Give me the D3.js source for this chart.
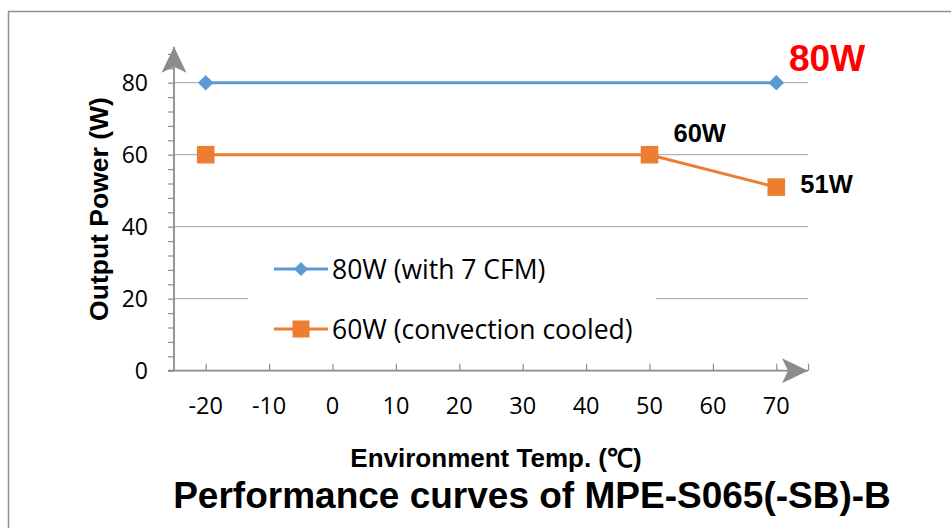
<!DOCTYPE html>
<html><head><meta charset="utf-8">
<script src="https://cdn.jsdelivr.net/npm/d3@7"></script>
<style>body{margin:0;background:#fff}svg{display:block}</style>
</head><body>
<script>
const seriesNames = ["80W (with 7 CFM)", "60W (convection cooled)"];
const series80Temp = [-20, 70];
const series80Power = [80, 80];
const series60Temp = [-20, 50, 70];
const series60Power = [60, 60, 51];
const xTicks = [-20, -10, 0, 10, 20, 30, 40, 50, 60, 70];
const yTicks = [0, 20, 40, 60, 80];
const annotations = [
  {text: "80W", x: 75, y: 80, color: "#ff0000"},
  {text: "60W", x: 50, y: 60, color: "#000"},
  {text: "51W", x: 70, y: 51, color: "#000"}
];

const W = 951, H = 528;
const svg = d3.select("body").append("svg").attr("width", W).attr("height", H);
const x = d3.scaleLinear().domain([-25, 75]).range([174, 808]);
const y = d3.scaleLinear().domain([0, 90]).range([370.7, 46.7]);
const blue = "#5B9BD5", orange = "#ED7D31", axisCol = "#8c8c8c", gridCol = "#b4b4b4";
const diamond = s => `M0,${-s}L${s},0L0,${s}L${-s},0Z`;

// border
svg.append("rect").attr("x", 8.5).attr("y", 11.5).attr("width", 1000).attr("height", 600)
  .attr("fill", "none").attr("stroke", "#8f8f8f").attr("stroke-width", 1.5);

// gridlines
svg.append("g").selectAll("line").data(yTicks.filter(d => d > 0)).join("line")
  .attr("x1", x(-25)).attr("x2", x(75)).attr("y1", d => y(d)).attr("y2", d => y(d))
  .attr("stroke", gridCol).attr("stroke-width", 1.2);

// y axis with minor ticks
const yMinor = d3.range(0, 89, 4);
const yAxis = d3.axisLeft(y).tickValues(yMinor).tickSize(6).tickFormat("");
svg.append("g").attr("transform", `translate(${x(-25)},0)`).call(yAxis)
  .call(g => { g.select(".domain").remove(); g.selectAll("line").attr("stroke", axisCol).attr("stroke-width", 1.2); });
svg.append("g").selectAll("text").data(yTicks).join("text")
  .attr("x", 148).attr("y", d => y(d)).attr("dy", "0.36em").attr("text-anchor", "end")
  .attr("font-family", "Open Sans").attr("font-size", 23).text(d => d);

// x axis ticks (inward)
const xAxis = d3.axisTop(x).tickValues(xTicks.concat([75])).tickSize(7).tickFormat("");
svg.append("g").attr("transform", `translate(0,${y(0)})`).call(xAxis)
  .call(g => { g.select(".domain").remove(); g.selectAll("line").attr("stroke", axisCol).attr("stroke-width", 1.2); });
svg.append("g").selectAll("text").data(xTicks).join("text")
  .attr("x", d => x(d)).attr("y", 414).attr("text-anchor", "middle")
  .attr("font-family", "Open Sans").attr("font-size", 23.5).text(d => d);

// axis lines
svg.append("line").attr("x1", x(-25) - 6).attr("x2", x(75)).attr("y1", y(0)).attr("y2", y(0))
  .attr("stroke", axisCol).attr("stroke-width", 1.8);
svg.append("line").attr("x1", x(-25)).attr("x2", x(-25)).attr("y1", y(0)).attr("y2", y(90))
  .attr("stroke", axisCol).attr("stroke-width", 1.8);

// arrows
function arrow(tx, ty, angle) {
  svg.append("path").attr("d", "M0,0 L-26,-12.5 L-20,0 L-26,12.5 Z")
    .attr("transform", `translate(${tx},${ty}) rotate(${angle})`).attr("fill", axisCol);
}
arrow(x(75), y(0), 0);
arrow(x(-25), y(90), -90);

// legend background
const lg = svg.append("g");
lg.append("rect").attr("x", 248).attr("y", 238).attr("width", 408).attr("height", 118).attr("fill", "#fff");
const legendRows = [
  {name: seriesNames[0], color: blue, d: diamond(7), y: 269},
  {name: seriesNames[1], color: orange, d: "M-8.5,-8.5h17v17h-17Z", y: 329}
];
legendRows.forEach(r => {
  lg.append("line").attr("x1", 274).attr("x2", 328).attr("y1", r.y).attr("y2", r.y)
    .attr("stroke", r.color).attr("stroke-width", 3);
  lg.append("path").attr("d", r.d).attr("transform", `translate(301,${r.y})`).attr("fill", r.color);
  lg.append("text").attr("x", 332).attr("y", r.y).attr("dy", "0.36em")
    .attr("font-family", "Open Sans").attr("font-size", 26.5).text(r.name);
});

// lines
const line = d3.line().x(d => x(d[0])).y(d => y(d[1]));
const d80 = series80Temp.map((t, i) => [t, series80Power[i]]);
const d60 = series60Temp.map((t, i) => [t, series60Power[i]]);
svg.append("path").attr("d", line(d80)).attr("fill", "none").attr("stroke", blue).attr("stroke-width", 3);
svg.append("path").attr("d", line(d60)).attr("fill", "none").attr("stroke", orange).attr("stroke-width", 3);
svg.append("g").selectAll("path").data(d80).join("path")
  .attr("d", diamond(7.8)).attr("transform", d => `translate(${x(d[0])},${y(d[1])})`).attr("fill", blue);
svg.append("g").selectAll("path").data(d60).join("path")
  .attr("d", "M-8.8,-8.8h17.6v17.6h-17.6Z").attr("transform", d => `translate(${x(d[0])},${y(d[1])})`).attr("fill", orange);

// annotations
const annPos = [
  {dx: -19, dy: -12, size: 37},
  {dx: 24, dy: -13, size: 25.5},
  {dx: 24, dy: 6, size: 25.5}
];
annotations.forEach((a, i) => {
  svg.append("text").attr("x", x(a.x) + annPos[i].dx).attr("y", y(a.y) + annPos[i].dy)
    .attr("font-family", "Liberation Sans, Arial").attr("font-weight", "bold")
    .attr("font-size", annPos[i].size).attr("fill", a.color).text(a.text);
});

// axis titles
svg.append("text").attr("transform", `translate(108,209) rotate(-90)`).attr("text-anchor", "middle")
  .attr("font-family", "Liberation Sans, Arial").attr("font-weight", "bold").attr("font-size", 26.5)
  .text("Output Power (W)");
svg.append("text").attr("x", 496).attr("y", 467).attr("text-anchor", "middle")
  .attr("font-family", "Liberation Sans, Arial").attr("font-weight", "bold").attr("font-size", 26)
  .text("Environment Temp. (℃)");
svg.append("text").attr("x", 532).attr("y", 508).attr("text-anchor", "middle")
  .attr("font-family", "Liberation Sans, Arial").attr("font-weight", "bold").attr("font-size", 37)
  .text("Performance curves of MPE-S065(-SB)-B");
</script>
</body></html>
